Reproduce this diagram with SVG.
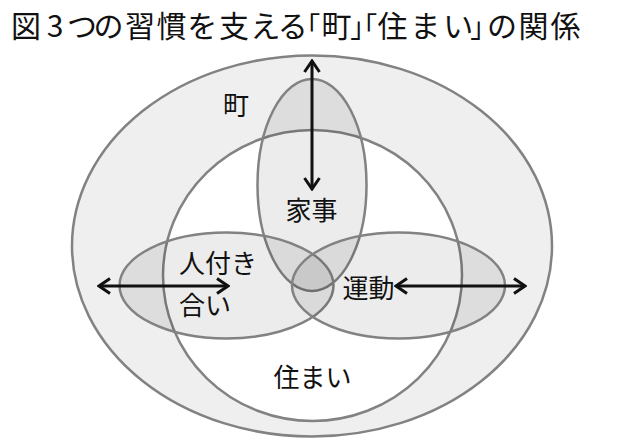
<svg xmlns="http://www.w3.org/2000/svg" width="620" height="443" viewBox="0 0 620 443">
<defs>
<style>
.t{font-family:"Noto Sans CJK JP","Noto Sans CJK SC",sans-serif;fill:#111;}
.title{font-size:30px;text-anchor:middle;font-feature-settings:"palt";}
.br{font-size:27px;}
.lbl{font-size:26px;text-anchor:middle;}
.ring{stroke:#828282;stroke-width:2.5;}
.ov{fill:#000;fill-opacity:0.075;stroke:#828282;stroke-width:2.5;}
.arr{stroke:#111;stroke-width:3;fill:none;marker-start:url(#ah);marker-end:url(#ah);}
</style>
<marker id="ah" markerUnits="userSpaceOnUse" viewBox="-14 -10 16 20" refX="0" refY="0" markerWidth="16" markerHeight="20" orient="auto-start-reverse">
<path d="M-11,-7.5 L0,0 L-11,7.5" fill="none" stroke="#111" stroke-width="3"/>
</marker>
</defs>
<rect width="620" height="443" fill="#fff"/>
<text class="t title" y="37"><tspan x="26">図</tspan><tspan x="55">3</tspan><tspan x="82">つ</tspan><tspan x="108.5">の</tspan><tspan x="140">習</tspan><tspan x="171.5">慣</tspan><tspan x="201.5">を</tspan><tspan x="234">支</tspan><tspan x="265">え</tspan><tspan x="292.5">る</tspan><tspan class="br" x="313">「</tspan><tspan x="336.5">町</tspan><tspan class="br" x="357.5">」</tspan><tspan class="br" x="370">「</tspan><tspan x="392.5">住</tspan><tspan x="425">ま</tspan><tspan x="458">い</tspan><tspan class="br" x="477.5">」</tspan><tspan x="502">の</tspan><tspan x="533.5">関</tspan><tspan x="565.5">係</tspan></text>
<g id="town">
<ellipse class="ring" cx="312" cy="246" rx="240" ry="190.5" fill="#efefef"/>
<text class="t lbl" x="236" y="115">町</text>
</g>
<g id="home">
<ellipse class="ring" cx="312.5" cy="275.5" rx="149.5" ry="145.5" fill="#fff"/>
<text class="t lbl" x="312.5" y="387">住まい</text>
</g>
<g id="housework">
<ellipse class="ov" cx="312" cy="185" rx="54.5" ry="106"/>
<text class="t lbl" x="311.5" y="220">家事</text>
</g>
<g id="social">
<ellipse class="ov" cx="226.5" cy="285.5" rx="107" ry="53"/>
<text class="t" font-size="26" x="179" y="273">人付き</text>
<text class="t" font-size="26" x="179" y="315">合い</text>
</g>
<g id="exercise">
<ellipse class="ov" cx="398.5" cy="285.5" rx="106.5" ry="53"/>
<text class="t lbl" x="368.5" y="298">運動</text>
</g>
<g id="connectors">
<line class="arr" x1="312" y1="61" x2="312" y2="189"/>
<line class="arr" x1="99" y1="286" x2="228" y2="286"/>
<line class="arr" x1="396" y1="286" x2="525" y2="286"/>
</g>
</svg>
